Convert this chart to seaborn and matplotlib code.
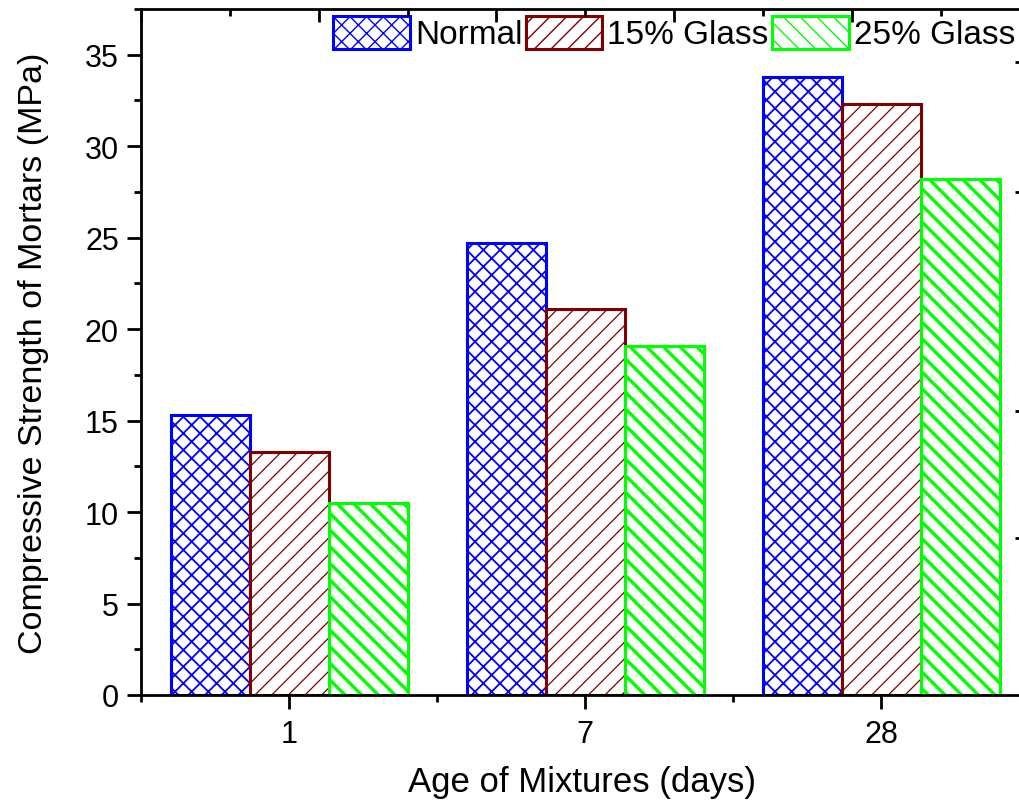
import numpy as np
import pandas as pd
import matplotlib
matplotlib.use("Agg")
import matplotlib.pyplot as plt
import seaborn as sns
from matplotlib.patches import Patch
from matplotlib.ticker import MultipleLocator, FixedLocator

# ---- data ----
ages = ["1", "7", "28"]
series = ["Normal", "15% Glass", "25% Glass"]
normal = [15.3, 24.7, 33.8]
glass15 = [13.3, 21.1, 32.3]
glass25 = [10.5, 19.1, 28.2]
right_ticks = [8.6, 15.5, 27.5, 34.6]

colors = ["#0000FF", "#800000", "#00FF00"]
hatches = ["xx", "//", "\\\\"]
hatch_lw = [1.3, 0.9, 2.4]

rows = []
for s, vals in zip(series, [normal, glass15, glass25]):
    for a, v in zip(ages, vals):
        rows.append({"Age": a, "Series": s, "Strength": v})
df = pd.DataFrame(rows)

sns.set_theme(style="ticks")
plt.rcParams["font.family"] = ["Liberation Sans", "DejaVu Sans"]
plt.rcParams["hatch.linewidth"] = 1.0
plt.rcParams["text.color"] = "black"
plt.rcParams["axes.labelcolor"] = "black"
plt.rcParams["xtick.color"] = "black"
plt.rcParams["ytick.color"] = "black"

fig = plt.figure(figsize=(10.19, 8.03), dpi=100)
ax = fig.add_axes([141 / 1019, 1 - 696 / 803, (1023 - 141) / 1019, (696 - 10) / 803])

sns.barplot(data=df, x="Age", y="Strength", hue="Series", order=ages,
            hue_order=series, width=0.8, gap=0, ax=ax, legend=False,
            palette=colors, saturation=1)

for cont, col, h, hl in zip(ax.containers, colors, hatches, hatch_lw):
    for bar in cont:
        bar.set_facecolor("white")
        bar.set_edgecolor(col)
        bar.set_hatch(h)
        bar.set_linewidth(2.2)
        if hasattr(bar, "set_hatch_linewidth"):
            bar.set_hatch_linewidth(hl)

ax.set_xlim(-0.5, 2.478)
ax.set_ylim(0, 37.5)
ax.yaxis.set_major_locator(MultipleLocator(5))
ax.yaxis.set_minor_locator(MultipleLocator(2.5))
ax.xaxis.set_minor_locator(FixedLocator([-0.5, 0.5, 1.5]))

for sp in ax.spines.values():
    sp.set_linewidth(2)
    sp.set_color("black")

ax.tick_params(axis="both", which="major", direction="out", length=10, width=2,
               labelsize=22, colors="black", pad=6)
ax.tick_params(axis="both", which="minor", direction="out", length=5, width=2,
               color="black")
ax.tick_params(axis="x", which="major", pad=7)

ax.set_xlabel("Age of Mixtures (days)", fontsize=25, labelpad=12, color="black")
ax.set_ylabel("Compressive Strength of Mortars (MPa)", fontsize=24.5, labelpad=26,
              color="black")

# top axis ticks (inward)
axt = ax.twiny()
axt.set_xlim(ax.get_xlim())
axt.xaxis.set_major_locator(FixedLocator([-0.5 + 0.6 * k for k in range(6)]))
axt.xaxis.set_minor_locator(FixedLocator([-0.2 + 0.6 * k for k in range(5)]))
axt.tick_params(axis="x", which="major", direction="in", length=9, width=2, labeltop=False)
axt.tick_params(axis="x", which="minor", direction="in", length=5, width=2)
for sp in axt.spines.values():
    sp.set_visible(False)

# right axis ticks (inward)
axr = ax.twinx()
axr.set_ylim(ax.get_ylim())
axr.yaxis.set_major_locator(FixedLocator(right_ticks))
axr.tick_params(axis="y", which="major", direction="in", length=6, width=2, labelright=False)
for sp in axr.spines.values():
    sp.set_visible(False)

handles = [Patch(facecolor="white", edgecolor=c, hatch=h, linewidth=2.2)
           for c, h in zip(colors, hatches)]
leg = ax.legend(handles, series, loc="upper right", bbox_to_anchor=(0.9985, 1.0),
                ncol=3, frameon=False, fontsize=24, handlelength=2.3,
                handleheight=1.15, handletextpad=0.15, columnspacing=0.1,
                borderaxespad=0.1, borderpad=0.1)
for t in leg.get_texts():
    t.set_color("black")

fig.savefig("out.png", dpi=100)
